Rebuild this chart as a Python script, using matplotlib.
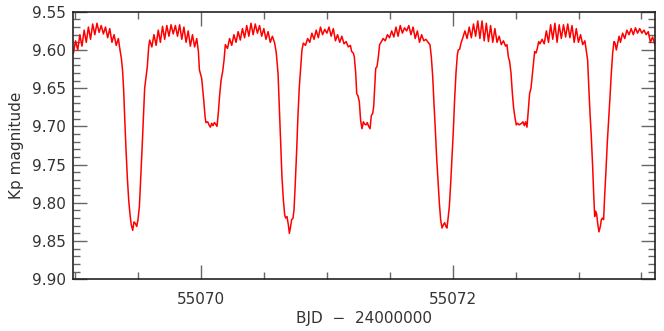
import matplotlib.pyplot as plt
from matplotlib.ticker import MultipleLocator

# light curve (BJD - 2400000, Kepler magnitude)
bjd = [
    # out of eclipse
    55068.986, 55069.003, 55069.020, 55069.037, 55069.054, 55069.071,
    55069.088, 55069.105, 55069.122, 55069.139, 55069.156, 55069.173,
    55069.190, 55069.207, 55069.224, 55069.241, 55069.258, 55069.275,
    55069.292, 55069.309, 55069.326, 55069.343,
    # primary eclipse 1
    55069.356, 55069.367, 55069.377, 55069.385, 55069.393, 55069.404,
    55069.414, 55069.425, 55069.436, 55069.446, 55069.457, 55069.467,
    55069.478, 55069.489, 55069.499, 55069.510, 55069.520, 55069.531,
    55069.542, 55069.552, 55069.563, 55069.573, 55069.584,
    # out of eclipse
    55069.592, 55069.609, 55069.626, 55069.643, 55069.660, 55069.677,
    55069.694, 55069.711, 55069.728, 55069.745, 55069.762, 55069.779,
    55069.796, 55069.813, 55069.830, 55069.847, 55069.864, 55069.881,
    55069.898, 55069.915, 55069.932, 55069.949, 55069.966,
    # secondary eclipse 1
    55069.979, 55069.987, 55070.005, 55070.021, 55070.032, 55070.039,
    55070.053, 55070.063, 55070.074, 55070.085, 55070.095, 55070.106,
    55070.116, 55070.127, 55070.137, 55070.148, 55070.159, 55070.172,
    55070.183, 55070.193,
    # out of eclipse
    55070.210, 55070.227, 55070.244, 55070.261, 55070.278, 55070.295,
    55070.312, 55070.329, 55070.346, 55070.363, 55070.380, 55070.397,
    55070.414, 55070.431, 55070.448, 55070.465, 55070.482, 55070.499,
    55070.516, 55070.533, 55070.550, 55070.567,
    # primary eclipse 2
    55070.585, 55070.598, 55070.612, 55070.622, 55070.633, 55070.643,
    55070.654, 55070.665, 55070.672, 55070.683, 55070.694, 55070.702,
    55070.712, 55070.720, 55070.731, 55070.739, 55070.749, 55070.760,
    55070.770, 55070.781, 55070.792, 55070.802, 55070.813,
    # out of eclipse
    55070.830, 55070.847, 55070.864, 55070.881, 55070.898, 55070.915,
    55070.932, 55070.949, 55070.966, 55070.983, 55071.000, 55071.017,
    55071.034, 55071.051, 55071.068, 55071.085, 55071.102, 55071.119,
    55071.136, 55071.153, 55071.170, 55071.187,
    # secondary eclipse 2
    55071.197, 55071.210, 55071.218, 55071.229, 55071.237, 55071.247,
    55071.258, 55071.268, 55071.279, 55071.290, 55071.300, 55071.311,
    55071.321, 55071.332, 55071.343, 55071.353, 55071.364, 55071.372,
    55071.380, 55071.388, 55071.398, 55071.409, 55071.419, 55071.430,
    # out of eclipse
    55071.447, 55071.464, 55071.481, 55071.498, 55071.515, 55071.532,
    55071.549, 55071.566, 55071.583, 55071.600, 55071.617, 55071.634,
    55071.651, 55071.668, 55071.685, 55071.702, 55071.719, 55071.736,
    55071.753, 55071.770, 55071.787, 55071.804,
    # primary eclipse 3
    55071.819, 55071.830, 55071.841, 55071.851, 55071.862, 55071.872,
    55071.883, 55071.894, 55071.904, 55071.915, 55071.925, 55071.936,
    55071.946, 55071.954, 55071.962, 55071.973, 55071.984, 55071.994,
    55072.005, 55072.015, 55072.026, 55072.037, 55072.044, 55072.055,
    55072.066,
    # out of eclipse
    55072.080, 55072.097, 55072.114, 55072.131, 55072.148, 55072.165,
    55072.182, 55072.199, 55072.216, 55072.233, 55072.250, 55072.267,
    55072.284, 55072.301, 55072.318, 55072.335, 55072.352, 55072.369,
    55072.386, 55072.403, 55072.420,
    # secondary eclipse 3
    55072.431, 55072.442, 55072.452, 55072.463, 55072.474, 55072.484,
    55072.495, 55072.505, 55072.516, 55072.527, 55072.537, 55072.548,
    55072.558, 55072.569, 55072.579, 55072.590, 55072.601, 55072.611,
    55072.622, 55072.632, 55072.643, 55072.651, 55072.662, 55072.672,
    55072.683,
    # out of eclipse
    55072.693, 55072.710, 55072.727, 55072.744, 55072.761, 55072.778,
    55072.795, 55072.812, 55072.829, 55072.846, 55072.863, 55072.880,
    55072.897, 55072.914, 55072.931, 55072.948, 55072.965, 55072.982,
    55072.999, 55073.016, 55073.033, 55073.050,
    # primary eclipse 4
    55073.064, 55073.072, 55073.080, 55073.091, 55073.101, 55073.112,
    55073.120, 55073.128, 55073.136, 55073.144, 55073.152, 55073.162,
    55073.173, 55073.181, 55073.189, 55073.199, 55073.207, 55073.218,
    55073.228, 55073.239, 55073.250, 55073.260, 55073.271, 55073.281,
    # out of eclipse
    55073.290, 55073.300, 55073.311, 55073.322, 55073.333, 55073.350,
    55073.367, 55073.384, 55073.401, 55073.418, 55073.435, 55073.452,
    55073.469, 55073.486, 55073.503, 55073.520, 55073.537, 55073.554,
    55073.571, 55073.588, 55073.605,
]

kp_mag = [
    # out of eclipse
    9.604, 9.588, 9.600, 9.580, 9.595, 9.574,
    9.590, 9.570, 9.586, 9.566, 9.580, 9.565,
    9.577, 9.568, 9.579, 9.570, 9.584, 9.572,
    9.590, 9.580, 9.594, 9.585,
    # primary eclipse 1
    9.600, 9.611, 9.628, 9.652, 9.687, 9.731,
    9.766, 9.796, 9.816, 9.829, 9.836, 9.825,
    9.827, 9.831, 9.822, 9.805, 9.770, 9.731,
    9.687, 9.650, 9.635, 9.622, 9.596,
    # out of eclipse
    9.587, 9.596, 9.580, 9.594, 9.574, 9.590,
    9.569, 9.586, 9.568, 9.582, 9.567, 9.579,
    9.568, 9.582, 9.567, 9.586, 9.570, 9.590,
    9.575, 9.595, 9.580, 9.596, 9.585,
    # secondary eclipse 1
    9.602, 9.626, 9.637, 9.665, 9.687, 9.695,
    9.694, 9.698, 9.701, 9.696, 9.699, 9.695,
    9.697, 9.700, 9.683, 9.659, 9.640, 9.628,
    9.613, 9.593,
    # out of eclipse
    9.598, 9.585, 9.594, 9.580, 9.590, 9.576,
    9.587, 9.572, 9.584, 9.568, 9.582, 9.565,
    9.580, 9.566, 9.578, 9.568, 9.582, 9.572,
    9.586, 9.576, 9.590, 9.582,
    # primary eclipse 2
    9.591, 9.604, 9.631, 9.674, 9.722, 9.766,
    9.796, 9.816, 9.820, 9.818, 9.829, 9.840,
    9.831, 9.822, 9.820, 9.809, 9.774, 9.731,
    9.687, 9.648, 9.622, 9.600, 9.591,
    # out of eclipse
    9.594, 9.585, 9.590, 9.578, 9.586, 9.574,
    9.584, 9.570, 9.580, 9.573, 9.578, 9.570,
    9.582, 9.572, 9.588, 9.580, 9.590, 9.582,
    9.592, 9.589, 9.596, 9.594,
    # secondary eclipse 2
    9.602, 9.604, 9.609, 9.630, 9.657, 9.660,
    9.668, 9.692, 9.703, 9.694, 9.697, 9.698,
    9.695, 9.700, 9.703, 9.686, 9.683, 9.674,
    9.648, 9.624, 9.622, 9.609, 9.593, 9.590,
    # out of eclipse
    9.585, 9.588, 9.580, 9.584, 9.575, 9.583,
    9.570, 9.582, 9.568, 9.578, 9.571, 9.575,
    9.568, 9.580, 9.570, 9.585, 9.575, 9.590,
    9.580, 9.588, 9.586, 9.590,
    # primary eclipse 3
    9.593, 9.609, 9.635, 9.670, 9.705, 9.740,
    9.770, 9.801, 9.822, 9.833, 9.829, 9.826,
    9.831, 9.833, 9.822, 9.805, 9.774, 9.740,
    9.705, 9.665, 9.630, 9.606, 9.600, 9.599,
    9.591,
    # out of eclipse
    9.584, 9.575, 9.585, 9.570, 9.584, 9.566,
    9.582, 9.562, 9.585, 9.562, 9.588, 9.565,
    9.589, 9.568, 9.590, 9.572, 9.590, 9.582,
    9.593, 9.588, 9.595,
    # secondary eclipse 3
    9.593, 9.609, 9.615, 9.630, 9.657, 9.676,
    9.689, 9.698, 9.696, 9.698, 9.697, 9.696,
    9.694, 9.699, 9.694, 9.701, 9.678, 9.657,
    9.650, 9.633, 9.613, 9.602, 9.604, 9.598,
    9.589,
    # out of eclipse
    9.592, 9.586, 9.592, 9.575, 9.590, 9.567,
    9.586, 9.565, 9.590, 9.567, 9.585, 9.567,
    9.583, 9.566, 9.584, 9.568, 9.590, 9.572,
    9.590, 9.580, 9.593, 9.588,
    # primary eclipse 4
    9.604, 9.613, 9.644, 9.683, 9.713, 9.753,
    9.788, 9.818, 9.811, 9.815, 9.827, 9.838,
    9.831, 9.822, 9.820, 9.822, 9.792, 9.757,
    9.722, 9.692, 9.661, 9.631, 9.604, 9.589,
    # out of eclipse
    9.591, 9.600, 9.591, 9.582, 9.590, 9.578,
    9.585, 9.574, 9.580, 9.572, 9.580, 9.571,
    9.578, 9.572, 9.578, 9.574, 9.580, 9.576,
    9.590, 9.583, 9.592,
]

x_limits = (55068.985, 55073.605)
y_limits = (9.90, 9.55)

text_color = "#333333"

fig = plt.figure(figsize=(6.64, 3.31), dpi=100)
ax = fig.add_axes([0.1104, 0.1565, 0.8756, 0.8079])

ax.plot(bjd, kp_mag, color="#ff0000", lw=1.1)

ax.set_xlim(*x_limits)
ax.set_ylim(*y_limits)

# ticks like the original: inward on every side
ax.xaxis.set_major_locator(MultipleLocator(2))
ax.xaxis.set_minor_locator(MultipleLocator(0.5))
ax.yaxis.set_major_locator(MultipleLocator(0.05))
ax.yaxis.set_minor_locator(MultipleLocator(0.01))
ax.xaxis.set_major_formatter(plt.FuncFormatter(lambda v, p: f"{v:.0f}"))
ax.yaxis.set_major_formatter(plt.FuncFormatter(lambda v, p: f"{v:.2f}"))
ax.tick_params(which="both", direction="in", top=True, right=True,
               color="#666666", labelcolor=text_color, labelsize=11)
ax.tick_params(which="major", length=10, width=1.0)
ax.tick_params(which="minor", length=5, width=1.0)
ax.tick_params(axis="x", pad=9)
ax.tick_params(axis="y", pad=5)

for spine in ax.spines.values():
    spine.set_color("#222222")
    spine.set_linewidth(1.2)

ax.set_xlabel("BJD  \u2212  24000000", fontsize=11, color=text_color,
              labelpad=3)
ax.set_ylabel("Kp magnitude", fontsize=11, color=text_color, labelpad=6)

fig.savefig("out.png", dpi=100)
